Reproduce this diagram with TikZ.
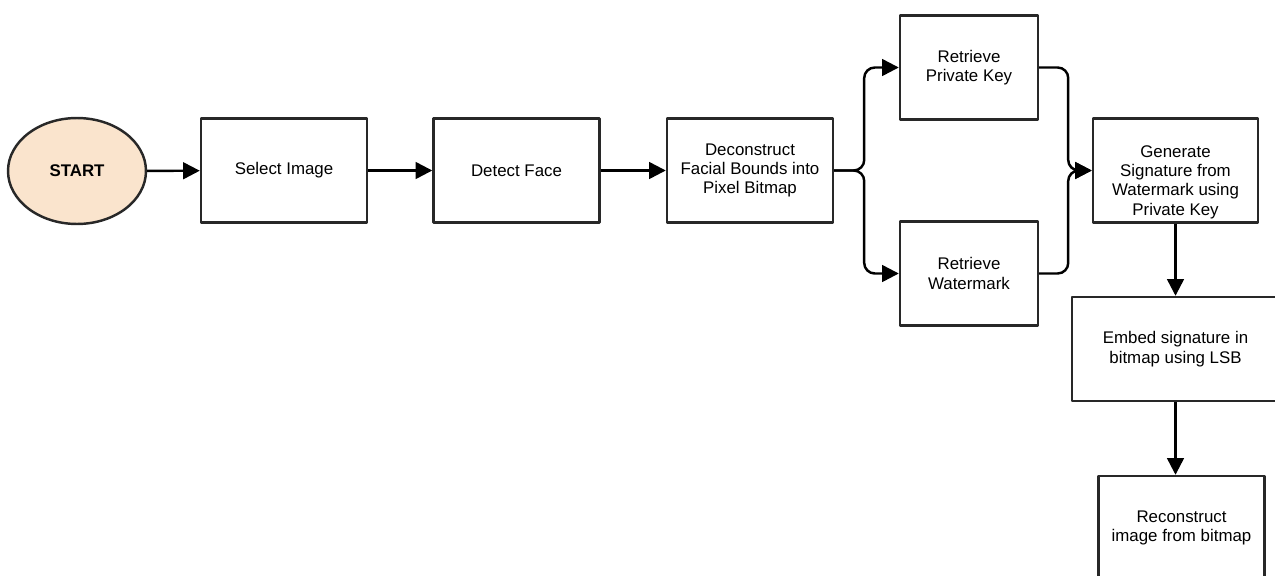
\documentclass[tikz,border=0pt]{standalone}
\usepackage{fontspec}
\setmainfont{Liberation Sans}
\usetikzlibrary{arrows.meta,shapes.geometric}

\definecolor{startpeach}{RGB}{250,228,205}
\definecolor{edgegray}{RGB}{40,40,40}

\tikzset{
  stepbox/.style={draw=edgegray,line width=1.4pt,fill=white,align=center,
    minimum width=3.32cm,minimum height=2.08cm,inner sep=2pt,
    font=\fontsize{9.6}{11}\selectfont},
  flow/.style={line width=1.4pt,-{Triangle[length=9.5pt,width=9.5pt]},rounded corners=6pt}
}

\begin{document}
\begin{tikzpicture}[x=0.02cm,y=-0.02cm,line join=round]
        \useasboundingbox (0,0) rectangle (1275,575);

        % Main row
        \node[ellipse,draw=edgegray,line width=1.4pt,fill=startpeach,
              minimum width=2.76cm,minimum height=2.12cm,
              font=\fontsize{9.6}{11}\selectfont\bfseries] (start) at (77,171) {START};
        \node[stepbox] (select) at (284,170.5) {Select Image};
        \node[stepbox] (detect) at (516.5,170.5) {Detect Face};
        \node[stepbox] (decon) at (750,170.5)
            {Deconstruct\\Facial Bounds into\\Pixel Bitmap};

        % Two branches
        \node[stepbox,minimum width=2.76cm] (privkey) at (969,67.5)
            {Retrieve\\Private Key};
        \node[stepbox,minimum width=2.76cm] (watermark) at (969,273.5)
            {Retrieve\\Watermark};

        % Signature and embedding
        \node[stepbox,minimum width=3.3cm] (generate) at (1175.5,170.5)
            {\mbox{}\\[9pt]Generate\\Signature from\\Watermark using\\Private Key};
        \node[stepbox,minimum width=4.14cm] (embed) at (1175.5,349)
            {Embed signature in\\bitmap using LSB};
        \node[stepbox] (rebuild) at (1181.5,528)
            {Reconstruct\\image from bitmap};

        % Connectors
        \draw[flow] (start) -- (select);
        \draw[flow] (select) -- (detect);
        \draw[flow] (detect) -- (decon);
        \draw[flow] (decon.east) -- ++(30,0) |- (privkey.west);
        \draw[flow] (decon.east) -- ++(30,0) |- (watermark.west);
        \draw[flow] (privkey.east) -- ++(29,0) |- (generate.west);
        \draw[flow] (watermark.east) -- ++(29,0) |- (generate.west);
        \draw[flow] (generate.south) -- (generate.south |- embed.north);
        \draw[flow] (generate.south |- embed.south) -- (generate.south |- rebuild.north);

    \end{tikzpicture}
\end{document}
